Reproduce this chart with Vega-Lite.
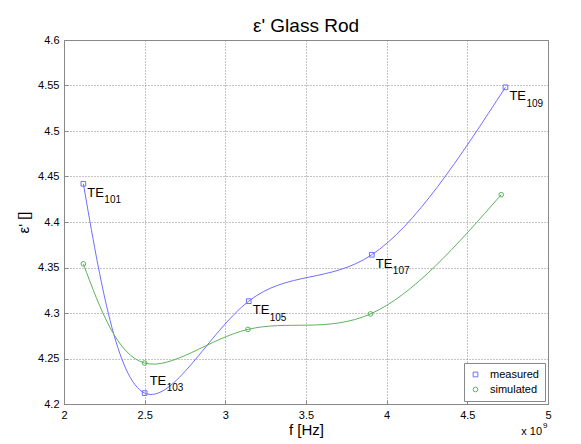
{
  "$schema": "https://vega.github.io/schema/vega-lite/v6.json",
  "autosize": {"type": "none"},
  "padding": {"left": 64, "top": 40, "right": 33, "bottom": 40},
  "width": 484,
  "height": 364,
  "background": "white",
  "title": {"text": "ε' Glass Rod", "fontSize": 19, "font": "Liberation Sans", "fontWeight": "normal", "color": "black", "anchor": "middle", "offset": -2},
  "config": {
    "font": "Liberation Sans",
    "view": {"stroke": "#888888", "strokeWidth": 1},
    "axis": {
      "labelFont": "Liberation Sans", "labelFontSize": 11, "labelColor": "black",
      "titleFont": "Liberation Sans", "titleFontSize": 15, "titleFontWeight": "normal", "titleColor": "black",
      "gridColor": "#8a8a8a", "gridDash": [1, 2], "gridWidth": 1,
      "domainColor": "#888888", "tickColor": "#888888", "tickSize": -4, "labelPadding": 9
    }
  },
  "data": {"values": [
    {"series": "measured", "f": 2120000000, "eps": 4.442, "mode": "101"},
    {"series": "measured", "f": 2500000000, "eps": 4.212, "mode": "103"},
    {"series": "measured", "f": 3145000000, "eps": 4.313, "mode": "105"},
    {"series": "measured", "f": 3908000000, "eps": 4.364, "mode": "107"},
    {"series": "measured", "f": 4736000000, "eps": 4.548, "mode": "109"},
    {"series": "simulated", "f": 2120000000, "eps": 4.354, "mode": null},
    {"series": "simulated", "f": 2500000000, "eps": 4.245, "mode": null},
    {"series": "simulated", "f": 3140000000, "eps": 4.282, "mode": null},
    {"series": "simulated", "f": 3900000000, "eps": 4.299, "mode": null},
    {"series": "simulated", "f": 4710000000, "eps": 4.430, "mode": null}
  ]},
  "encoding": {
    "x": {"field": "f", "type": "quantitative",
      "scale": {"domain": [2000000000, 5000000000], "nice": false, "zero": false},
      "axis": {"title": "f [Hz]", "values": [2000000000, 2500000000, 3000000000, 3500000000, 4000000000, 4500000000, 5000000000],
        "labelExpr": "format(datum.value/1e9, '~g')", "titlePadding": 2, "labelFlush": false}},
    "y": {"field": "eps", "type": "quantitative",
      "scale": {"domain": [4.2, 4.6], "nice": false, "zero": false},
      "axis": {"title": "ε' []", "values": [4.2, 4.25, 4.3, 4.35, 4.4, 4.45, 4.5, 4.55, 4.6],
        "format": ".2~f", "titlePadding": 6, "labelFlush": false}}
  },
  "layer": [
    {
      "mark": {"type": "line", "interpolate": "natural", "strokeWidth": 1},
      "encoding": {
        "color": {"field": "series", "type": "nominal",
          "scale": {"domain": ["measured", "simulated"], "range": ["#6e6eff", "#5cb35c"]}},
        "order": {"field": "f", "type": "quantitative"}
      }
    },
    {
      "mark": {"type": "point", "filled": false, "strokeWidth": 1, "size": 22, "opacity": 1},
      "encoding": {
        "color": {"field": "series", "type": "nominal",
          "scale": {"domain": ["measured", "simulated"], "range": ["#6e6eff", "#5cb35c"]},
          "legend": {"title": null, "orient": "bottom-right", "offset": 3, "padding": 6,
            "strokeColor": "#888888", "fillColor": "white", "labelFontSize": 11, "labelColor": "black",
            "labelFont": "Liberation Sans", "symbolSize": 22, "symbolStrokeWidth": 1, "rowPadding": 3, "labelOffset": 9,
            "symbolType": "square"}},
        "shape": {"field": "series", "type": "nominal",
          "scale": {"domain": ["measured", "simulated"], "range": ["square", "circle"]}}
      }
    },
    {
      "transform": [{"filter": "datum.series === 'measured' && datum.mode !== '103'"}],
      "mark": {"type": "text", "text": "TE", "align": "left", "baseline": "alphabetic", "dx": 4, "dy": 13, "fontSize": 13, "color": "black"}
    },
    {
      "transform": [{"filter": "datum.series === 'measured' && datum.mode !== '103'"}],
      "mark": {"type": "text", "align": "left", "baseline": "alphabetic", "dx": 21, "dy": 19.5, "fontSize": 10, "color": "black"},
      "encoding": {"text": {"field": "mode"}}
    },
    {
      "transform": [{"filter": "datum.mode === '103'"}],
      "mark": {"type": "text", "text": "TE", "align": "left", "baseline": "alphabetic", "dx": 5, "dy": -8, "fontSize": 13, "color": "black"}
    },
    {
      "transform": [{"filter": "datum.mode === '103'"}],
      "mark": {"type": "text", "align": "left", "baseline": "alphabetic", "dx": 22, "dy": -2, "fontSize": 10, "color": "black"},
      "encoding": {"text": {"field": "mode"}}
    },
    {
      "data": {"values": [{"f": 5000000000, "eps": 4.2}]},
      "mark": {"type": "text", "text": "x 10", "align": "right", "baseline": "alphabetic", "dx": -6, "dy": 31, "fontSize": 11, "color": "black"}
    },
    {
      "data": {"values": [{"f": 5000000000, "eps": 4.2}]},
      "mark": {"type": "text", "text": "9", "align": "left", "baseline": "alphabetic", "dx": -5, "dy": 24, "fontSize": 8, "color": "black"}
    }
  ]
}
